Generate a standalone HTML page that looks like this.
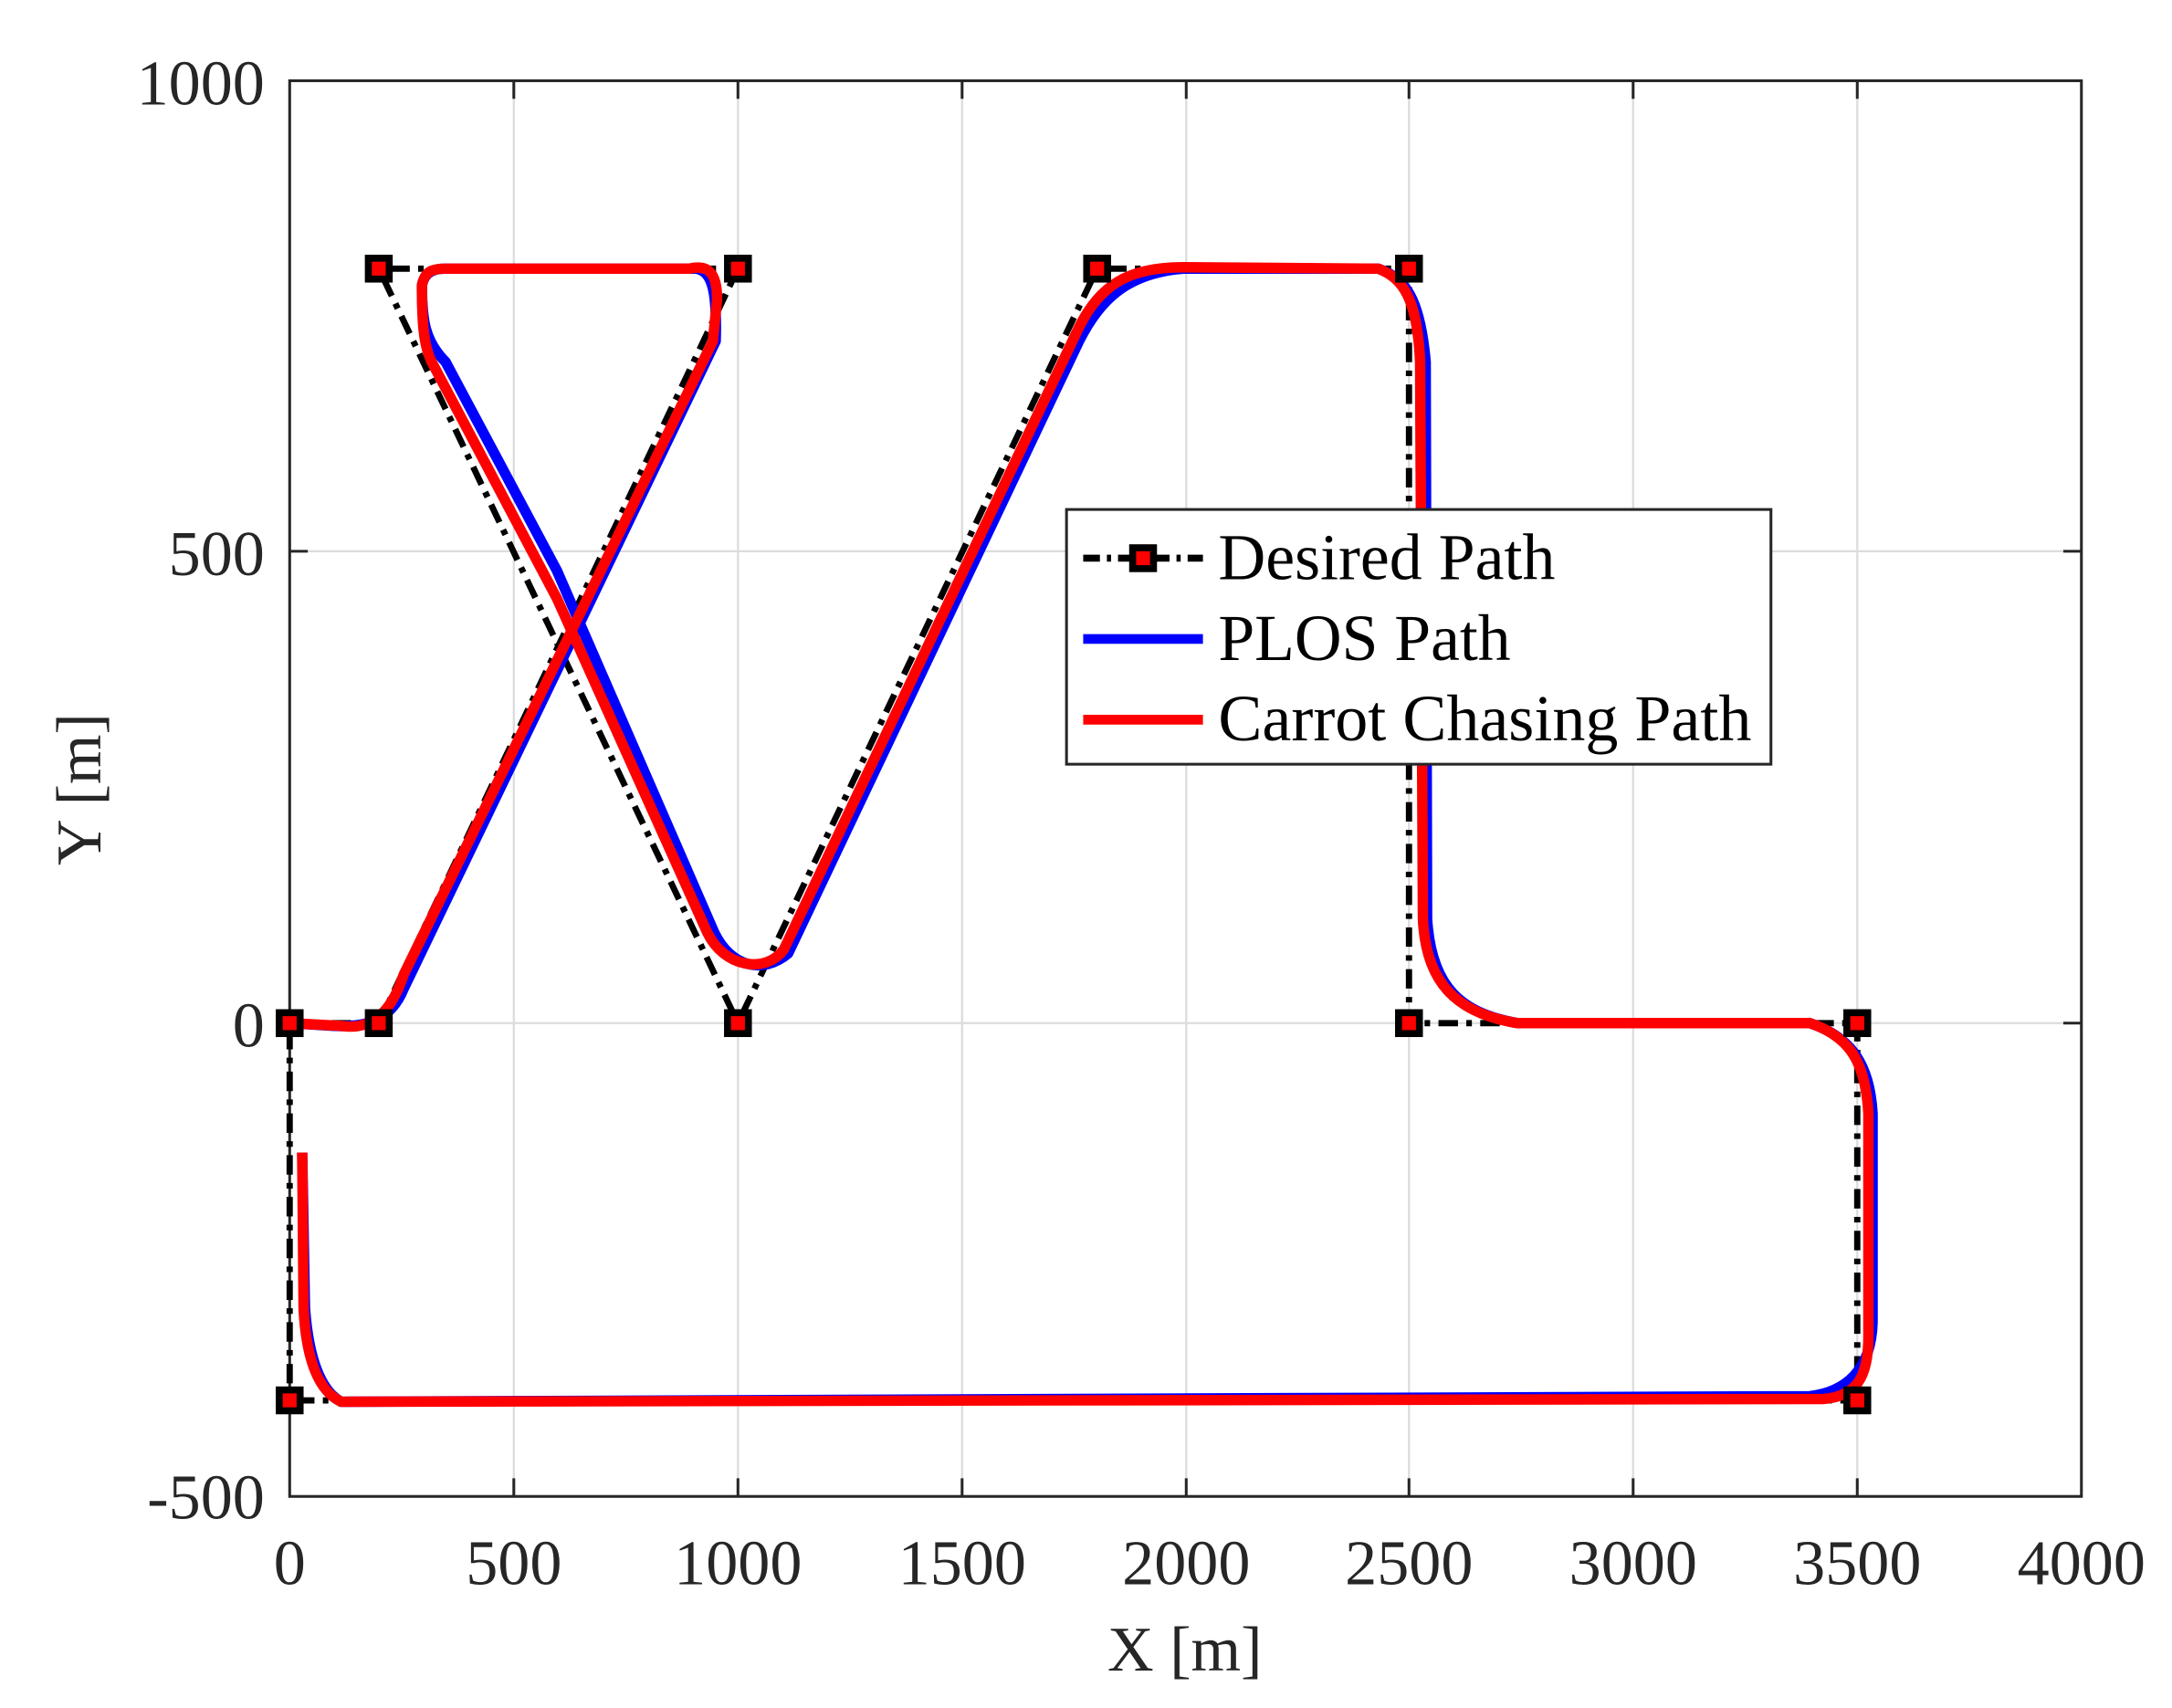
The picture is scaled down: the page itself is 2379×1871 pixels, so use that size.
<!DOCTYPE html>
<html><head><meta charset="utf-8"><style>html,body{margin:0;padding:0;background:#fff}svg{display:block}</style></head>
<body>
<svg width="2379" height="1871" viewBox="0 0 1560 1227" xmlns="http://www.w3.org/2000/svg" font-family="Liberation Serif, serif">
<rect width="1560" height="1227" fill="#fff"/>
<g stroke="#dcdcdc" stroke-width="1.5">
<line x1="369" y1="58" x2="369" y2="1075"/><line x1="530" y1="58" x2="530" y2="1075"/><line x1="691" y1="58" x2="691" y2="1075"/><line x1="852" y1="58" x2="852" y2="1075"/><line x1="1012" y1="58" x2="1012" y2="1075"/><line x1="1173" y1="58" x2="1173" y2="1075"/><line x1="1334" y1="58" x2="1334" y2="1075"/>
<line x1="208" y1="396" x2="1495" y2="396"/><line x1="208" y1="735" x2="1495" y2="735"/>
</g>
<g stroke="#262626" stroke-width="2">
<rect x="208" y="58" width="1287" height="1017" fill="none"/>
<path d="M369 1075v-13M530 1075v-13M691 1075v-13M852 1075v-13M1012 1075v-13M1173 1075v-13M1334 1075v-13M369 58v13M530 58v13M691 58v13M852 58v13M1012 58v13M1173 58v13M1334 58v13M208 396h13M208 735h13M1495 396h-13M1495 735h-13"/>
</g>
<path d="M208 735L272 735L530 193L272 193L530 735L788 193L1012 193L1012 735L1334 735L1334 1006L208 1006Z" fill="none" stroke="#000" stroke-width="4.5" stroke-dasharray="14 6 4 6"/>
<path d="M217 828L219 940C222 980 232 1000 245 1007L1300 1003C1325 1000 1344 985 1345 950L1345 800C1343 765 1330 745 1300 735L1090 735C1050 728 1028 710 1025 660L1024 260C1020 215 1010 200 990 193L850 193C810 196 790 215 775 245L566 685C548 700 525 695 513 670L400 410L320 260C305 245 303 230 303 205C305 195 312 193 320 193L500 193C512 195 515 210 514 245L290 710C280 735 260 738 240 737L208 735" fill="none" stroke="#0000ff" stroke-width="7.5" stroke-linejoin="round"/>
<path d="M217 828L218 940C220 980 230 1000 245 1007L1310 1005C1333 1003 1342 990 1342 960L1342 800C1340 765 1330 745 1300 735L1090 735C1045 728 1024 705 1022 660L1020 260C1018 215 1008 200 990 193L850 192C810 192 790 205 775 235L563 682C550 700 520 695 508 670L400 430L310 260C304 248 303 230 303 205C305 195 310 193 320 193L495 193C508 190 515 195 515 215L512 245L290 700C280 730 265 740 245 737L208 735" fill="none" stroke="#ff0000" stroke-width="7.5" stroke-linejoin="round"/>
<g fill="#000">
<rect x="198" y="725" width="20" height="20"/><rect x="262" y="725" width="20" height="20"/><rect x="520" y="183" width="20" height="20"/><rect x="262" y="183" width="20" height="20"/><rect x="520" y="725" width="20" height="20"/><rect x="778" y="183" width="20" height="20"/><rect x="1002" y="183" width="20" height="20"/><rect x="1002" y="725" width="20" height="20"/><rect x="1324" y="725" width="20" height="20"/><rect x="1324" y="996" width="20" height="20"/><rect x="198" y="996" width="20" height="20"/>
</g>
<g fill="#ff0000">
<rect x="203" y="730" width="10" height="10"/><rect x="267" y="730" width="10" height="10"/><rect x="525" y="188" width="10" height="10"/><rect x="267" y="188" width="10" height="10"/><rect x="525" y="730" width="10" height="10"/><rect x="783" y="188" width="10" height="10"/><rect x="1007" y="188" width="10" height="10"/><rect x="1007" y="730" width="10" height="10"/><rect x="1329" y="730" width="10" height="10"/><rect x="1329" y="1001" width="10" height="10"/><rect x="203" y="1001" width="10" height="10"/>
</g>
<g font-size="46" fill="#262626" text-anchor="middle">
<text x="208" y="1138">0</text><text x="369" y="1138">500</text><text x="530" y="1138">1000</text><text x="691" y="1138">1500</text><text x="852" y="1138">2000</text><text x="1012" y="1138">2500</text><text x="1173" y="1138">3000</text><text x="1334" y="1138">3500</text><text x="1495" y="1138">4000</text>
</g>
<g font-size="46" fill="#262626" text-anchor="end">
<text x="190" y="75">1000</text><text x="190" y="413">500</text><text x="190" y="752">0</text><text x="190" y="1091">-500</text>
</g>
<text x="851" y="1200" font-size="46" fill="#262626" text-anchor="middle">X [m]</text>
<text transform="translate(72,567) rotate(-90)" font-size="46" fill="#262626" text-anchor="middle">Y [m]</text>
<rect x="766" y="366" width="506" height="183" fill="#fff" stroke="#262626" stroke-width="2"/>
<line x1="778" y1="401" x2="864" y2="401" stroke="#000" stroke-width="5" stroke-dasharray="12 5 3 5"/>
<rect x="811" y="391" width="20" height="20" fill="#000"/><rect x="816" y="396" width="10" height="10" fill="#f00"/>
<line x1="778" y1="459" x2="864" y2="459" stroke="#0000ff" stroke-width="7"/>
<line x1="778" y1="517" x2="864" y2="517" stroke="#ff0000" stroke-width="7"/>
<g font-size="47" fill="#000">
<text x="875" y="416" textLength="242" lengthAdjust="spacingAndGlyphs">Desired Path</text><text x="875" y="474" textLength="210" lengthAdjust="spacingAndGlyphs">PLOS Path</text><text x="875" y="532" textLength="383" lengthAdjust="spacingAndGlyphs">Carrot Chasing Path</text>
</g>
</svg>
</body></html>
